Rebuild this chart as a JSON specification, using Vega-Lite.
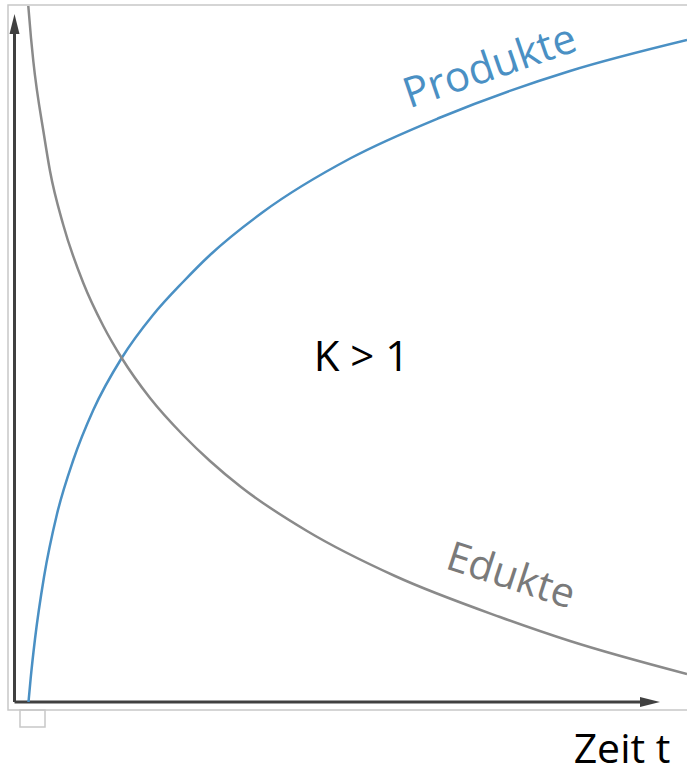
{
  "$schema": "https://vega.github.io/schema/vega-lite/v6.json",
  "width": 687,
  "height": 773,
  "padding": 0,
  "autosize": {"type": "none"},
  "background": "white",
  "config": {"view": {"stroke": null}},
  "layer": [
    {
      "data": {"values": [{"x1": -0.065, "x2": 6.9, "y1": 6.97, "y2": -0.08}]},
      "mark": {"type": "rect", "fillOpacity": 0, "stroke": "#c8c8c8", "strokeWidth": 1.5},
      "encoding": {
        "x": {"field": "x1", "type": "quantitative", "scale": {"domain": [-0.145, 6.725], "nice": false, "zero": false}, "axis": null},
        "x2": {"field": "x2"},
        "y": {"field": "y1", "type": "quantitative", "scale": {"domain": [-0.71, 7.02], "nice": false, "zero": false}, "axis": null},
        "y2": {"field": "y2"}
      }
    },
    {
      "data": {"values": [{"x1": 0.055, "x2": 0.305, "y1": -0.08, "y2": -0.25}]},
      "mark": {"type": "rect", "fillOpacity": 0, "stroke": "#c8c8c8", "strokeWidth": 1.5},
      "encoding": {
        "x": {"field": "x1", "type": "quantitative", "scale": {"domain": [-0.145, 6.725], "nice": false, "zero": false}, "axis": null},
        "x2": {"field": "x2"},
        "y": {"field": "y1", "type": "quantitative", "scale": {"domain": [-0.71, 7.02], "nice": false, "zero": false}, "axis": null},
        "y2": {"field": "y2"}
      }
    },
    {
      "data": {"values": [
        {"x1": 0, "x2": 0, "y1": 0, "y2": 6.72},
        {"x1": 0, "x2": 6.33, "y1": 0, "y2": 0}
      ]},
      "mark": {"type": "rule", "color": "#404040", "strokeWidth": 3},
      "encoding": {
        "x": {"field": "x1", "type": "quantitative", "scale": {"domain": [-0.145, 6.725], "nice": false, "zero": false}, "axis": null},
        "x2": {"field": "x2"},
        "y": {"field": "y1", "type": "quantitative", "scale": {"domain": [-0.71, 7.02], "nice": false, "zero": false}, "axis": null},
        "y2": {"field": "y2"}
      }
    },
    {
      "data": {"values": [{"t": 0, "c": 6.78}]},
      "mark": {"type": "point", "shape": "M0,-1L0.5,1L-0.5,1Z", "size": 400, "filled": true, "color": "#404040", "opacity": 1},
      "encoding": {
        "x": {"field": "t", "type": "quantitative", "scale": {"domain": [-0.145, 6.725], "nice": false, "zero": false}, "axis": null},
        "y": {"field": "c", "type": "quantitative", "scale": {"domain": [-0.71, 7.02], "nice": false, "zero": false}, "axis": null}
      }
    },
    {
      "data": {"values": [{"t": 6.355, "c": 0}]},
      "mark": {"type": "point", "shape": "M1,0L-1,-0.5L-1,0.5Z", "size": 400, "filled": true, "color": "#404040", "opacity": 1},
      "encoding": {
        "x": {"field": "t", "type": "quantitative", "scale": {"domain": [-0.145, 6.725], "nice": false, "zero": false}, "axis": null},
        "y": {"field": "c", "type": "quantitative", "scale": {"domain": [-0.71, 7.02], "nice": false, "zero": false}, "axis": null}
      }
    },
    {
      "data": {"values": [
        {"series": "Produkte", "t": 0.14, "c": 0.0},
        {"series": "Produkte", "t": 0.162, "c": 0.24},
        {"series": "Produkte", "t": 0.205, "c": 0.63},
        {"series": "Produkte", "t": 0.295, "c": 1.25},
        {"series": "Produkte", "t": 0.425, "c": 1.88},
        {"series": "Produkte", "t": 0.588, "c": 2.42},
        {"series": "Produkte", "t": 0.788, "c": 2.92},
        {"series": "Produkte", "t": 1.072, "c": 3.44},
        {"series": "Produkte", "t": 1.385, "c": 3.87},
        {"series": "Produkte", "t": 1.685, "c": 4.2},
        {"series": "Produkte", "t": 1.955, "c": 4.47},
        {"series": "Produkte", "t": 2.485, "c": 4.9},
        {"series": "Produkte", "t": 3.365, "c": 5.44},
        {"series": "Produkte", "t": 4.245, "c": 5.84},
        {"series": "Produkte", "t": 5.555, "c": 6.31},
        {"series": "Produkte", "t": 6.725, "c": 6.62},
        {"series": "Edukte", "t": 0.138, "c": 6.96},
        {"series": "Edukte", "t": 0.165, "c": 6.64},
        {"series": "Edukte", "t": 0.188, "c": 6.41},
        {"series": "Edukte", "t": 0.295, "c": 5.67},
        {"series": "Edukte", "t": 0.355, "c": 5.31},
        {"series": "Edukte", "t": 0.488, "c": 4.77},
        {"series": "Edukte", "t": 0.688, "c": 4.19},
        {"series": "Edukte", "t": 0.888, "c": 3.76},
        {"series": "Edukte", "t": 1.072, "c": 3.44},
        {"series": "Edukte", "t": 1.355, "c": 3.04},
        {"series": "Edukte", "t": 1.685, "c": 2.67},
        {"series": "Edukte", "t": 1.955, "c": 2.41},
        {"series": "Edukte", "t": 2.265, "c": 2.15},
        {"series": "Edukte", "t": 2.925, "c": 1.71},
        {"series": "Edukte", "t": 3.805, "c": 1.26},
        {"series": "Edukte", "t": 4.855, "c": 0.85},
        {"series": "Edukte", "t": 5.555, "c": 0.61},
        {"series": "Edukte", "t": 6.725, "c": 0.28}
      ]},
      "mark": {"type": "line", "strokeWidth": 2.5, "interpolate": "monotone"},
      "encoding": {
        "x": {"field": "t", "type": "quantitative", "scale": {"domain": [-0.145, 6.725], "nice": false, "zero": false}, "axis": null},
        "y": {"field": "c", "type": "quantitative", "scale": {"domain": [-0.71, 7.02], "nice": false, "zero": false}, "axis": null},
        "color": {"field": "series", "type": "nominal", "scale": {"domain": ["Produkte", "Edukte"], "range": ["#4a90c4", "#8a8a8a"]}, "legend": null},
        "order": {"field": "t", "type": "quantitative"}
      }
    },
    {
      "data": {"values": [{"label": "Produkte", "t": 4.755, "c": 6.35}]},
      "mark": {"type": "text", "font": "Open Sans", "fontSize": 42, "angle": -19, "color": "#4a90c4", "align": "center", "baseline": "middle"},
      "encoding": {
        "x": {"field": "t", "type": "quantitative", "scale": {"domain": [-0.145, 6.725], "nice": false, "zero": false}, "axis": null},
        "y": {"field": "c", "type": "quantitative", "scale": {"domain": [-0.71, 7.02], "nice": false, "zero": false}, "axis": null},
        "text": {"field": "label"}
      }
    },
    {
      "data": {"values": [{"label": "Edukte", "t": 4.96, "c": 1.25}]},
      "mark": {"type": "text", "font": "Open Sans", "fontSize": 41, "angle": 18, "color": "#7a7a7a", "align": "center", "baseline": "middle"},
      "encoding": {
        "x": {"field": "t", "type": "quantitative", "scale": {"domain": [-0.145, 6.725], "nice": false, "zero": false}, "axis": null},
        "y": {"field": "c", "type": "quantitative", "scale": {"domain": [-0.71, 7.02], "nice": false, "zero": false}, "axis": null},
        "text": {"field": "label"}
      }
    },
    {
      "data": {"values": [{"label": "K > 1", "t": 3.47, "c": 3.44}]},
      "mark": {"type": "text", "font": "Open Sans", "fontSize": 42, "color": "#000000", "align": "center", "baseline": "middle"},
      "encoding": {
        "x": {"field": "t", "type": "quantitative", "scale": {"domain": [-0.145, 6.725], "nice": false, "zero": false}, "axis": null},
        "y": {"field": "c", "type": "quantitative", "scale": {"domain": [-0.71, 7.02], "nice": false, "zero": false}, "axis": null},
        "text": {"field": "label"}
      }
    },
    {
      "data": {"values": [{"label": "Zeit t", "t": 6.075, "c": -0.605}]},
      "mark": {"type": "text", "font": "Open Sans", "fontSize": 41, "color": "#000000", "align": "center", "baseline": "alphabetic"},
      "encoding": {
        "x": {"field": "t", "type": "quantitative", "scale": {"domain": [-0.145, 6.725], "nice": false, "zero": false}, "axis": null},
        "y": {"field": "c", "type": "quantitative", "scale": {"domain": [-0.71, 7.02], "nice": false, "zero": false}, "axis": null},
        "text": {"field": "label"}
      }
    }
  ]
}
